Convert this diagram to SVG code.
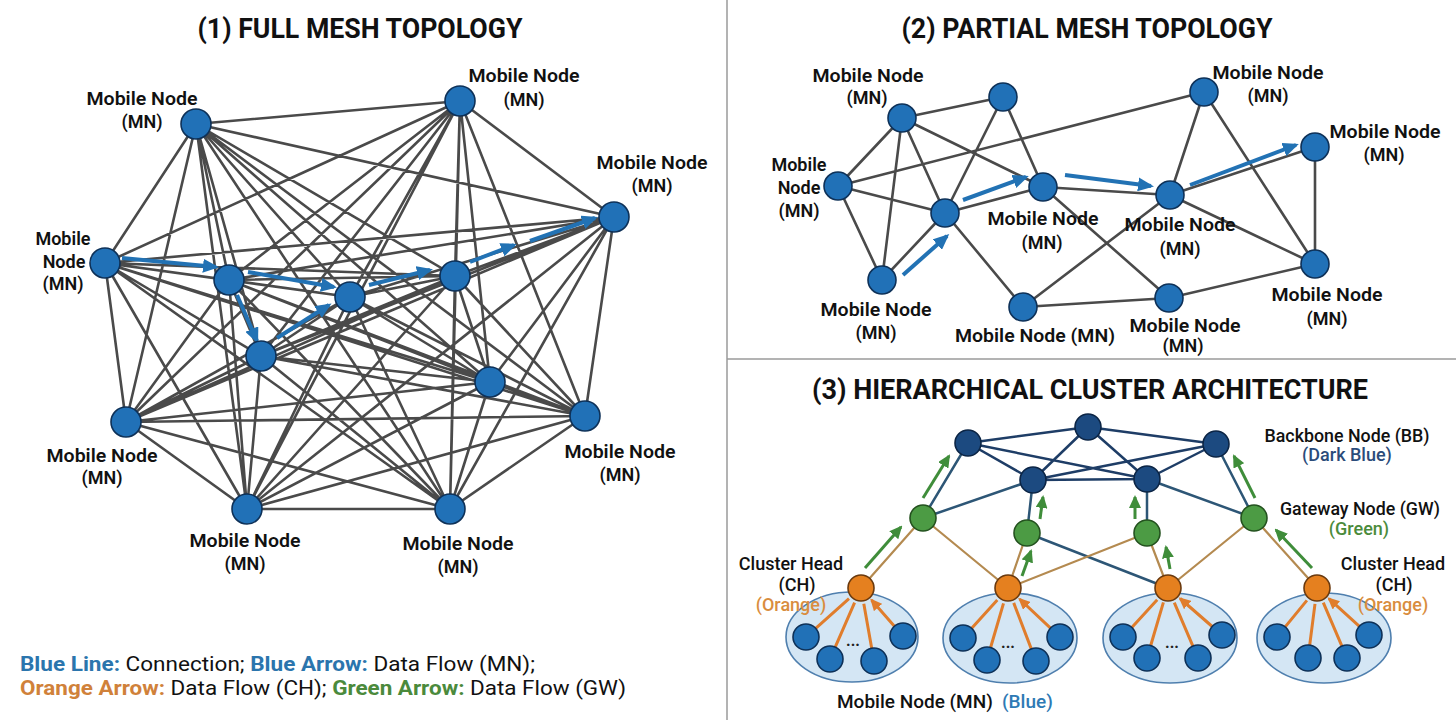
<svg xmlns="http://www.w3.org/2000/svg" width="1456" height="720" viewBox="0 0 1456 720">
<style>
text{font-family:Roboto,"Liberation Sans",sans-serif}
.title{font-size:27px;font-weight:700;fill:#111;text-anchor:middle}
.lbl{font-size:18px;font-weight:600;fill:#111;text-anchor:middle}
.lbl3{font-size:18px;font-weight:500;fill:#111;text-anchor:middle}
.leg{font-size:20px;fill:#111}
.mesh{stroke:#4a4a4a;stroke-width:2.6;fill:none}
.mn{fill:#2171b7;stroke:#0e3158;stroke-width:1.6}
.bb{fill:#1c4a80;stroke:#0c2545;stroke-width:1.6}
.gw{fill:#4c9b44;stroke:#24521f;stroke-width:1.6}
.ch{fill:#e5801f;stroke:#6a3a0f;stroke-width:1.6}
.ell{fill:#d4e6f4;stroke:#4f7fae;stroke-width:1.6}
.barr{stroke:#2272b4;stroke-width:4;fill:none;marker-end:url(#hb)}
.oarr{stroke:#e07d2c;stroke-width:3;fill:none;marker-end:url(#ho)}
.garr{stroke:#3f8d3a;stroke-width:3;fill:none;marker-end:url(#hg)}
.bbl{stroke:#1e3d66;stroke-width:2.5;fill:none}
.gwl{stroke:#2d5676;stroke-width:2.5;fill:none}
.chl{stroke:#b48a50;stroke-width:2.2;fill:none}
</style>
<defs>
<marker id="hb" markerUnits="userSpaceOnUse" markerWidth="16" markerHeight="14" refX="13" refY="7" orient="auto"><path d="M0,0 L16,7 L0,14 z" fill="#2272b4"/></marker>
<marker id="ho" markerUnits="userSpaceOnUse" markerWidth="12" markerHeight="11" refX="10" refY="5.5" orient="auto"><path d="M0,0 L12,5.5 L0,11 z" fill="#e07d2c"/></marker>
<marker id="hg" markerUnits="userSpaceOnUse" markerWidth="13" markerHeight="12" refX="11" refY="6" orient="auto"><path d="M0,0 L13,6 L0,12 z" fill="#3f8d3a"/></marker>
</defs>
<rect width="1456" height="720" fill="#fff"/>
<g id="dividers" stroke="#9a9a9a" stroke-width="1.5">
<line x1="727" y1="0" x2="727" y2="720"/>
<line x1="727" y1="359" x2="1456" y2="359"/>
</g>
<g id="titles">
<text class="title" x="360" y="38" textLength="325" lengthAdjust="spacingAndGlyphs">(1) FULL MESH TOPOLOGY</text>
<text class="title" x="1087" y="38" textLength="371" lengthAdjust="spacingAndGlyphs">(2) PARTIAL MESH TOPOLOGY</text>
<text class="title" x="1090" y="399" textLength="556" lengthAdjust="spacingAndGlyphs">(3) HIERARCHICAL CLUSTER ARCHITECTURE</text>
</g>
<g id="connectors">
<path class="mesh" d="M196 124L460 101M196 124L614 217M196 124L105 263M196 124L229 280M196 124L350 297M196 124L455 276M196 124L261 356M196 124L490 382M196 124L126 422M196 124L247 509M196 124L450 509M196 124L585 416
M460 101L614 217M460 101L105 263M460 101L229 280M460 101L350 297M460 101L455 276M460 101L261 356M460 101L490 382M460 101L126 422M460 101L247 509M460 101L450 509M460 101L585 416
M614 217L105 263M614 217L229 280M614 217L350 297M614 217L455 276M614 217L261 356M614 217L490 382M614 217L126 422M614 217L247 509M614 217L450 509M614 217L585 416
M105 263L229 280M105 263L350 297M105 263L455 276M105 263L261 356M105 263L490 382M105 263L126 422M105 263L247 509M105 263L450 509M105 263L585 416
M229 280L350 297M229 280L455 276M229 280L261 356M229 280L490 382M229 280L126 422M229 280L247 509M229 280L450 509M229 280L585 416
M350 297L455 276M350 297L261 356M350 297L490 382M350 297L126 422M350 297L247 509M350 297L450 509M350 297L585 416
M455 276L261 356M455 276L490 382M455 276L126 422M455 276L247 509M455 276L450 509M455 276L585 416
M261 356L490 382M261 356L126 422M261 356L247 509M261 356L450 509M261 356L585 416
M490 382L126 422M490 382L247 509M490 382L450 509M490 382L585 416
M126 422L247 509M126 422L450 509M126 422L585 416
M247 509L450 509M247 509L585 416
M450 509L585 416"/>
<path class="barr" d="M122 258L216 267"/>
<path class="barr" d="M248 272L334 287"/>
<path class="barr" d="M237 295L257 341"/>
<path class="barr" d="M277 338L329 305"/>
<path class="barr" d="M369 285L430 270"/>
<path class="barr" d="M470 262L514 245"/>
<path class="barr" d="M530 241L595 218"/>
<path class="mesh" d="M902 118L1003 97M902 118L838 186M902 118L882 280M902 118L945 213M902 118L1043 187M838 186L945 213M838 186L882 280M838 186L1204 92M1003 97L945 213M1003 97L1043 187M945 213L1043 187M945 213L882 280M945 213L1023 307M1043 187L1170 195M1043 187L1169 298M1023 307L1170 195M1023 307L1169 298M1204 92L1170 195M1204 92L1315 264M1170 195L1315 147M1170 195L1315 264M1315 147L1315 264M1315 264L1169 298"/>
<path class="barr" d="M903 275L947 236"/>
<path class="barr" d="M963 200L1026 177"/>
<path class="barr" d="M1065 175L1151 186"/>
<path class="barr" d="M1190 185L1296 145"/>
<path class="bbl" d="M968 443L1088 427M968 443L1033 480M968 443L1147 479M1088 427L1033 480M1088 427L1216 444M1088 427L1147 479M1216 444L1033 480M1216 444L1147 479M1033 480L1147 479"/>
<path class="gwl" d="M923 518L968 443M923 518L1033 480M1027 533L1033 480M1147 533L1147 479M1254 518L1216 444M1254 518L1147 479M1027 533L1168 588"/>
<path class="chl" d="M861 588L923 518M1008 588L923 518M1008 588L1027 533M1008 588L1147 533M1168 588L1147 533M1168 588L1254 518M1317 588L1254 518"/>
</g>
<g id="clusters">
<ellipse class="ell" cx="852" cy="637" rx="66" ry="45"/>
<ellipse class="ell" cx="1010" cy="638" rx="67" ry="45"/>
<ellipse class="ell" cx="1170" cy="638" rx="67" ry="45"/>
<ellipse class="ell" cx="1324" cy="638" rx="67" ry="45"/>
</g>
<g id="p1-nodes">
<g id="n1a"><circle class="mn" cx="196" cy="124" r="15"/><text class="lbl" x="142" y="105" textLength="111" lengthAdjust="spacingAndGlyphs">Mobile Node</text><text class="lbl" x="142" y="128">(MN)</text></g>
<g id="n1b"><circle class="mn" cx="460" cy="101" r="15"/><text class="lbl" x="524" y="82" textLength="111" lengthAdjust="spacingAndGlyphs">Mobile Node</text><text class="lbl" x="524" y="106">(MN)</text></g>
<g id="n1c"><circle class="mn" cx="614" cy="217" r="15"/><text class="lbl" x="652" y="169" textLength="111" lengthAdjust="spacingAndGlyphs">Mobile Node</text><text class="lbl" x="652" y="192">(MN)</text></g>
<g id="n1d"><circle class="mn" cx="105" cy="263" r="15"/><text class="lbl" x="63" y="245">Mobile</text><text class="lbl" x="64" y="268">Node</text><text class="lbl" x="63" y="290">(MN)</text></g>
<g id="n1e"><circle class="mn" cx="229" cy="280" r="15"/></g>
<g id="n1f"><circle class="mn" cx="350" cy="297" r="15"/></g>
<g id="n1g"><circle class="mn" cx="455" cy="276" r="15"/></g>
<g id="n1h"><circle class="mn" cx="261" cy="356" r="15"/></g>
<g id="n1i"><circle class="mn" cx="490" cy="382" r="15"/></g>
<g id="n1j"><circle class="mn" cx="126" cy="422" r="15"/><text class="lbl" x="102" y="462" textLength="111" lengthAdjust="spacingAndGlyphs">Mobile Node</text><text class="lbl" x="102" y="484">(MN)</text></g>
<g id="n1k"><circle class="mn" cx="247" cy="509" r="15"/><text class="lbl" x="245" y="547" textLength="111" lengthAdjust="spacingAndGlyphs">Mobile Node</text><text class="lbl" x="245" y="570">(MN)</text></g>
<g id="n1l"><circle class="mn" cx="450" cy="509" r="15"/><text class="lbl" x="458" y="550" textLength="111" lengthAdjust="spacingAndGlyphs">Mobile Node</text><text class="lbl" x="458" y="573">(MN)</text></g>
<g id="n1m"><circle class="mn" cx="585" cy="416" r="15"/><text class="lbl" x="620" y="458" textLength="111" lengthAdjust="spacingAndGlyphs">Mobile Node</text><text class="lbl" x="620" y="481">(MN)</text></g>
</g>
<g id="p2-nodes">
<g id="n2a"><circle class="mn" cx="902" cy="118" r="14"/><text class="lbl" x="868" y="82" textLength="111" lengthAdjust="spacingAndGlyphs">Mobile Node</text><text class="lbl" x="867" y="104">(MN)</text></g>
<g id="n2b"><circle class="mn" cx="1003" cy="97" r="14"/></g>
<g id="n2c"><circle class="mn" cx="838" cy="186" r="14"/><text class="lbl" x="799" y="171">Mobile</text><text class="lbl" x="799" y="194">Node</text><text class="lbl" x="799" y="217">(MN)</text></g>
<g id="n2d"><circle class="mn" cx="945" cy="213" r="14"/></g>
<g id="n2e"><circle class="mn" cx="1043" cy="187" r="14"/><text class="lbl" x="1043" y="225" textLength="111" lengthAdjust="spacingAndGlyphs">Mobile Node</text><text class="lbl" x="1042" y="249">(MN)</text></g>
<g id="n2f"><circle class="mn" cx="882" cy="280" r="14"/><text class="lbl" x="876" y="316" textLength="111" lengthAdjust="spacingAndGlyphs">Mobile Node</text><text class="lbl" x="876" y="339">(MN)</text></g>
<g id="n2g"><circle class="mn" cx="1023" cy="307" r="14"/><text class="lbl" x="1035" y="342" textLength="160" lengthAdjust="spacingAndGlyphs">Mobile Node (MN)</text></g>
<g id="n2h"><circle class="mn" cx="1204" cy="92" r="14"/><text class="lbl" x="1268" y="79" textLength="111" lengthAdjust="spacingAndGlyphs">Mobile Node</text><text class="lbl" x="1268" y="102">(MN)</text></g>
<g id="n2i"><circle class="mn" cx="1170" cy="195" r="14"/><text class="lbl" x="1180" y="231" textLength="111" lengthAdjust="spacingAndGlyphs">Mobile Node</text><text class="lbl" x="1180" y="255">(MN)</text></g>
<g id="n2j"><circle class="mn" cx="1315" cy="147" r="14"/><text class="lbl" x="1385" y="138" textLength="111" lengthAdjust="spacingAndGlyphs">Mobile Node</text><text class="lbl" x="1384" y="161">(MN)</text></g>
<g id="n2k"><circle class="mn" cx="1315" cy="264" r="14"/><text class="lbl" x="1327" y="301" textLength="111" lengthAdjust="spacingAndGlyphs">Mobile Node</text><text class="lbl" x="1327" y="325">(MN)</text></g>
<g id="n2l"><circle class="mn" cx="1169" cy="298" r="14"/><text class="lbl" x="1185" y="332" textLength="111" lengthAdjust="spacingAndGlyphs">Mobile Node</text><text class="lbl" x="1183" y="352">(MN)</text></g>
</g>
<g id="p3-arrows">
<path class="oarr" d="M815.7 628.4L849 598.6M835.2 647.1L854.6 602.7M871.7 648.2L863.8 603.8M894.4 626.2L871.5 600"/>
<path class="oarr" d="M971.7 628.3L997.3 599.9M990.6 647.5L1003.5 603.4M1031.3 648.9L1013.7 602.9M1050.5 628.1L1019.6 599"/>
<path class="oarr" d="M1131.8 627.4L1157.2 599.8M1150.7 645.5L1163.4 602.3M1192.9 646.1L1174.3 602.7M1212.2 626.5L1180.1 598.5"/>
<path class="oarr" d="M1285.2 626.9L1306.9 600.4M1309.7 645.1L1315 603.9M1341.9 646.1L1323.3 602.7M1359.4 626.3L1328.9 598.7"/>
<path class="garr" d="M865 568L901 527"/>
<path class="garr" d="M923 498L949 456"/>
<path class="garr" d="M1022 576L1031 551"/>
<path class="garr" d="M1040 519L1043 497"/>
<path class="garr" d="M1170 569L1166 547"/>
<path class="garr" d="M1135 519L1135 497"/>
<path class="garr" d="M1312 568L1276 530"/>
<path class="garr" d="M1255 498L1234 456"/>
</g>
<g id="p3-nodes">
<g id="bb1"><circle class="bb" cx="968" cy="443" r="13"/></g>
<g id="bb2"><circle class="bb" cx="1088" cy="427" r="13"/></g>
<g id="bb3"><circle class="bb" cx="1216" cy="444" r="13"/></g>
<g id="bb4"><circle class="bb" cx="1033" cy="480" r="13"/></g>
<g id="bb5"><circle class="bb" cx="1147" cy="479" r="13"/></g>
<g id="gw1"><circle class="gw" cx="923" cy="518" r="13"/></g>
<g id="gw2"><circle class="gw" cx="1027" cy="533" r="13"/></g>
<g id="gw3"><circle class="gw" cx="1147" cy="533" r="13"/></g>
<g id="gw4"><circle class="gw" cx="1254" cy="518" r="13"/></g>
<g id="ch1"><circle class="ch" cx="861" cy="588" r="13"/></g>
<g id="ch2"><circle class="ch" cx="1008" cy="588" r="13"/></g>
<g id="ch3"><circle class="ch" cx="1168" cy="588" r="13"/></g>
<g id="ch4"><circle class="ch" cx="1317" cy="588" r="13"/></g>
<g id="c1-members"><circle class="mn" cx="806" cy="637" r="13"/><circle class="mn" cx="830" cy="659" r="13"/><circle class="mn" cx="874" cy="661" r="13"/><circle class="mn" cx="903" cy="636" r="13"/><text x="853" y="646" font-size="16" font-weight="700" fill="#222" text-anchor="middle">...</text></g>
<g id="c2-members"><circle class="mn" cx="963" cy="638" r="13"/><circle class="mn" cx="987" cy="660" r="13"/><circle class="mn" cx="1036" cy="661" r="13"/><circle class="mn" cx="1060" cy="637" r="13"/><text x="1008" y="648" font-size="16" font-weight="700" fill="#222" text-anchor="middle">...</text></g>
<g id="c3-members"><circle class="mn" cx="1123" cy="637" r="13"/><circle class="mn" cx="1147" cy="658" r="13"/><circle class="mn" cx="1198" cy="658" r="13"/><circle class="mn" cx="1222" cy="635" r="13"/><text x="1172" y="648" font-size="16" font-weight="700" fill="#222" text-anchor="middle">...</text></g>
<g id="c4-members"><circle class="mn" cx="1277" cy="637" r="13"/><circle class="mn" cx="1308" cy="658" r="13"/><circle class="mn" cx="1347" cy="658" r="13"/><circle class="mn" cx="1369" cy="635" r="13"/></g>
</g>
<g id="p3-labels">
<text class="lbl3" x="1347" y="442" textLength="165" lengthAdjust="spacingAndGlyphs">Backbone Node (BB)</text>
<text class="lbl3" x="1347" y="461" style="fill:#2b4c7a">(Dark Blue)</text>
<text class="lbl3" x="1360" y="515" textLength="160" lengthAdjust="spacingAndGlyphs">Gateway Node (GW)</text>
<text class="lbl3" x="1359" y="535" style="fill:#4b8b3b">(Green)</text>
<text class="lbl3" x="1393" y="570">Cluster Head</text>
<text class="lbl3" x="1394" y="591">(CH)</text>
<text class="lbl3" x="1393" y="611" style="fill:#d98d3e">(Orange)</text>
<text class="lbl3" x="791" y="570">Cluster Head</text>
<text class="lbl3" x="797" y="591">(CH)</text>
<text class="lbl3" x="791" y="611" style="fill:#d98d3e">(Orange)</text>
<text x="837" y="708" font-size="19" font-weight="500" fill="#111">Mobile Node (MN)</text>
<text x="1002" y="708" font-size="19" font-weight="500" fill="#2e7ab5">(Blue)</text>
</g>
<g id="legend">
<text class="leg" x="20" y="671" textLength="515" lengthAdjust="spacingAndGlyphs"><tspan fill="#2b75ad" font-weight="700">Blue Line:</tspan> Connection; <tspan fill="#2b75ad" font-weight="700">Blue Arrow:</tspan> Data Flow (MN);</text>
<text class="leg" x="20" y="695" textLength="606" lengthAdjust="spacingAndGlyphs"><tspan fill="#d0813a" font-weight="700">Orange Arrow:</tspan> Data Flow (CH); <tspan fill="#4b8a3c" font-weight="700">Green Arrow:</tspan> Data Flow (GW)</text>
</g>
</svg>
